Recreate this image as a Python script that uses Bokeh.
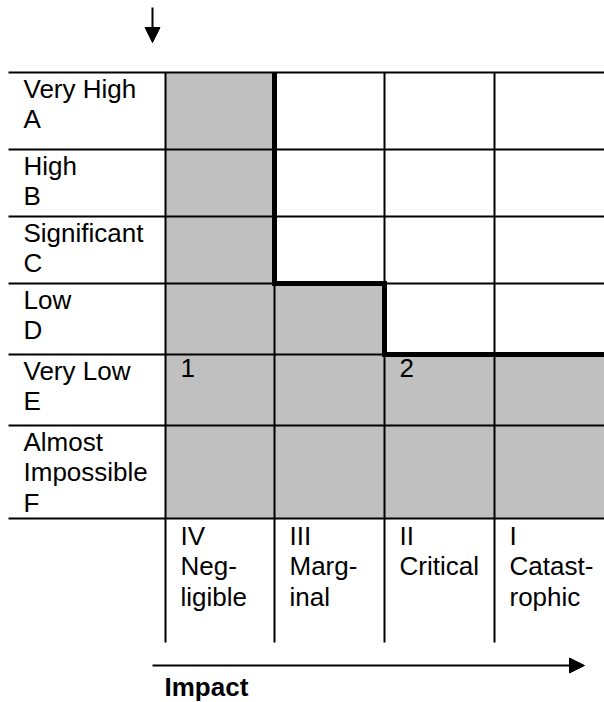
from bokeh.plotting import figure
from bokeh.models import Range1d, Arrow, NormalHead
from bokeh.core.properties import value
from bokeh.embed import file_html
from bokeh.resources import INLINE

# ---------------- data ----------------
likelihood_labels = ["Very High\nA", "High\nB", "Significant\nC", "Low\nD",
                     "Very Low\nE", "Almost\nImpossible\nF"]
impact_labels = ["IV\nNeg-\nligible", "III\nMarg-\ninal", "II\nCritical", "I\nCatast-\nrophic"]
# 1 = shaded (acceptable) cell, rows = likelihood A..F, cols = impact IV..I
shaded = [
    [1, 0, 0, 0],
    [1, 0, 0, 0],
    [1, 0, 0, 0],
    [1, 1, 0, 0],
    [1, 1, 1, 1],
    [1, 1, 1, 1],
]
zone_labels = ["1", "2"]
zone_rows = [4, 4]
zone_cols = [0, 2]
axis_title = "Impact"

# ---------------- layout (page pixels) ----------------
W, H = 604, 702
row_edges = [72, 149, 216, 283, 354, 425, 518]
col_edges = [165, 274, 384, 494, 604]
label_left = 8
header_bottom = 642
pad_x = 15
FONT = "Liberation Sans"
FS = "26px"
LH = 1.02
GRAY = "#C0C0C0"

p = figure(width=W, height=H, output_backend="svg", toolbar_location=None,
           x_range=Range1d(0, W), y_range=Range1d(H, 0),
           min_border=0, min_border_left=0, min_border_right=0,
           min_border_top=0, min_border_bottom=0)
p.axis.visible = False
p.xgrid.visible = False
p.ygrid.visible = False
p.outline_line_color = None
p.background_fill_color = "white"
p.border_fill_color = "white"

# shaded cells
L, R, T, B = [], [], [], []
for i, row in enumerate(shaded):
    for j, s in enumerate(row):
        if s:
            L.append(col_edges[j]); R.append(col_edges[j + 1])
            T.append(row_edges[i]); B.append(row_edges[i + 1])
p.quad(left=L, right=R, top=T, bottom=B, fill_color=GRAY, line_color=None)

# grid lines
hx0 = [label_left] * len(row_edges)
hx1 = [col_edges[-1]] * len(row_edges)
p.segment(x0=hx0, y0=row_edges, x1=hx1, y1=row_edges, line_color="black", line_width=2)
vx = col_edges[:-1]
p.segment(x0=vx, y0=[row_edges[0]] * len(vx), x1=vx, y1=[header_bottom] * len(vx),
          line_color="black", line_width=2)

# threshold step line (boundary of shaded region)
first = [next(i for i in range(len(shaded)) if shaded[i][j]) for j in range(len(impact_labels))]
xs, ys = [], []
for j, f in enumerate(first):
    y = row_edges[f]
    xs += [col_edges[j], col_edges[j + 1]]
    ys += [y, y]
while len(xs) > 2 and ys[0] == row_edges[0] and ys[1] == row_edges[0]:
    xs = xs[1:]; ys = ys[1:]
p.line(xs, ys, line_color="black", line_width=5, line_join="miter")

# row labels
p.text(x=[label_left + pad_x] * len(likelihood_labels),
       y=[row_edges[i] + 1 for i in range(len(likelihood_labels))],
       text=likelihood_labels, text_font=value(FONT), text_font_size=FS,
       text_baseline="top", text_align="left", text_color="black", text_line_height=LH)

# column labels
p.text(x=[col_edges[j] + pad_x for j in range(len(impact_labels))],
       y=[row_edges[-1] + 2] * len(impact_labels),
       text=impact_labels, text_font=value(FONT), text_font_size=FS,
       text_baseline="top", text_align="left", text_color="black", text_line_height=LH)

# zone labels
p.text(x=[col_edges[c] + pad_x for c in zone_cols],
       y=[row_edges[r] + 4 for r in zone_rows],
       text=zone_labels, text_font=value(FONT), text_font_size=FS,
       text_baseline="top", text_align="left", text_color="black")

# arrows
p.add_layout(Arrow(end=NormalHead(size=15, fill_color="black", line_color="black"),
                   x_start=152, y_start=7, x_end=152, y_end=42,
                   line_color="black", line_width=2))
p.add_layout(Arrow(end=NormalHead(size=15, fill_color="black", line_color="black"),
                   x_start=152, y_start=665, x_end=584, y_end=665,
                   line_color="black", line_width=2))

p.text(x=[col_edges[0] - 1], y=[671], text=[axis_title], text_font=value(FONT),
       text_font_size=FS, text_font_style="bold", text_baseline="top",
       text_align="left", text_color="black")

open("out.html", "w").write(file_html(p, INLINE))
